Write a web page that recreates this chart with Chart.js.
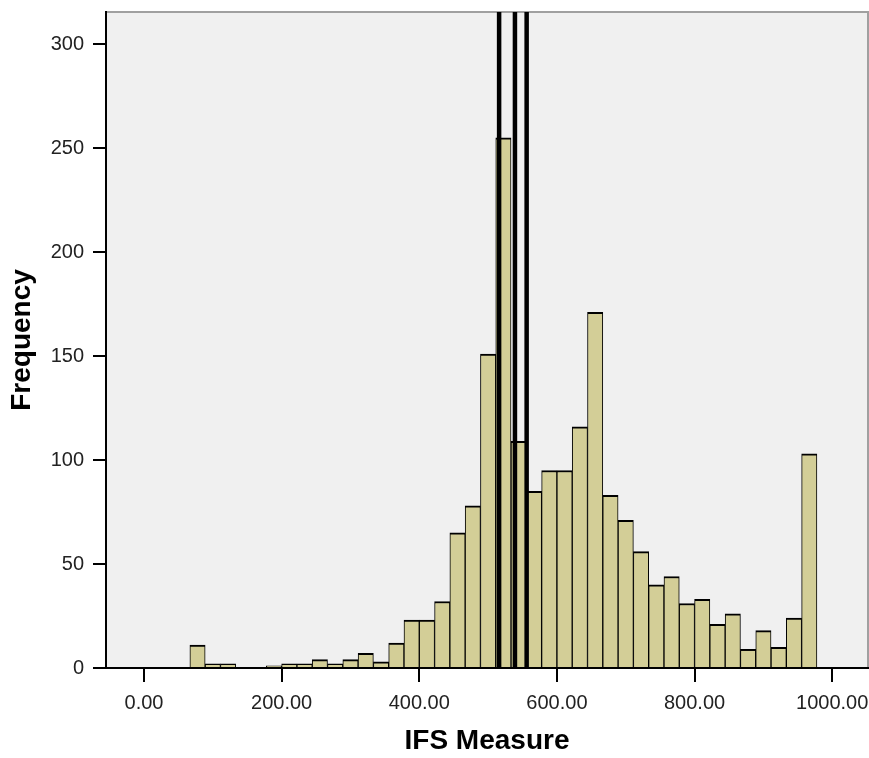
<!DOCTYPE html>
<html>
<head>
<meta charset="utf-8">
<script src="https://cdn.jsdelivr.net/npm/chart.js@4.4.0/dist/chart.umd.min.js"></script>
<style>
html, body { margin: 0; padding: 0; background: #fff; }
</style>
</head>
<body>
<canvas id="myChart" width="869" height="758"></canvas>
<script>
// histogram bins (lower edge of each bin, width 200/9)
const binWidth = 22.22;
const binStarts = [66.67, 88.89, 111.11, 133.33, 155.56, 177.78, 200.00, 222.22, 244.44, 266.67,
  288.89, 311.11, 333.33, 355.56, 377.78, 400.00, 422.22, 444.44, 466.67, 488.89,
  511.11, 533.33, 555.56, 577.78, 600.00, 622.22, 644.44, 666.67, 688.89, 711.11,
  733.33, 755.56, 777.78, 800.00, 822.22, 844.44, 866.67, 888.89, 911.11, 933.33, 955.56];

const frequency = [11, 2, 2, 0, 0, 1, 2, 2, 4, 2,
  4, 7, 3, 12, 23, 23, 32, 65, 78, 151,
  255, 109, 85, 95, 95, 116, 171, 83, 71, 56,
  40, 44, 31, 33, 21, 26, 9, 18, 10, 24, 103];

// vertical reference lines
const refLines = [516, 539, 556];

const xTicks = [0, 200, 400, 600, 800, 1000];
const yTicks = [0, 50, 100, 150, 200, 250, 300];

const font = "'Liberation Sans', Arial, sans-serif";

let points = [];
for (let i = 0; i < binStarts.length; i++) {
  points.push({ x: binStarts[i] + binWidth / 2, y: frequency[i] });
}

// grey plot background + frame
const plotBg = {
  id: "plotBg",
  beforeDraw(chart) {
    const { ctx, chartArea: a } = chart;
    ctx.save();
    ctx.fillStyle = "#f0f0f0";
    ctx.fillRect(a.left, a.top, a.right - a.left, a.bottom - a.top);
    ctx.strokeStyle = "#a0a0a0";
    ctx.lineWidth = 2;
    ctx.beginPath();
    ctx.moveTo(a.left, a.top);
    ctx.lineTo(a.right, a.top);
    ctx.lineTo(a.right, a.bottom);
    ctx.stroke();
    ctx.restore();
  }
};

// reference lines over the bars
const vLines = {
  id: "vLines",
  afterDatasetsDraw(chart) {
    const { ctx, chartArea: a, scales } = chart;
    ctx.save();
    ctx.strokeStyle = "#000";
    ctx.lineWidth = 4.5;
    refLines.forEach(v => {
      const x = scales.x.getPixelForValue(v);
      ctx.beginPath();
      ctx.moveTo(x, a.top);
      ctx.lineTo(x, a.bottom);
      ctx.stroke();
    });
    ctx.restore();
  }
};

const ctx = document.getElementById("myChart");

let chart = new Chart(ctx, {
  type: "bar",
  data: {
    datasets: [{
      label: "Frequency",
      data: points,
      backgroundColor: "#d3ce97",
      borderColor: "#000",
      borderWidth: { top: 2, left: 1, right: 1, bottom: 0 },
      barPercentage: 1,
      categoryPercentage: 1
    }]
  },
  options: {
    responsive: false,
    devicePixelRatio: 1,
    animation: false,
    layout: { padding: { top: 12, right: 1, left: 0, bottom: 0 } },
    plugins: { legend: { display: false }, tooltip: { enabled: false } },
    scales: {
      x: {
        type: "linear",
        min: -55.2,
        max: 1052,
        offset: false,
        afterBuildTicks: s => { s.ticks = xTicks.map(v => ({ value: v })); },
        afterFit: s => { s.height = 90; s.paddingLeft = 0; s.paddingRight = 0; },
        grid: { offset: false, drawOnChartArea: false, drawTicks: true, tickLength: 14, color: "#000", lineWidth: 2 },
        border: { display: true, color: "#000", width: 2 },
        ticks: {
          padding: 9, color: "#222", maxRotation: 0, autoSkip: false,
          font: { size: 20, family: font },
          callback: v => Number(v).toFixed(2)
        },
        title: {
          display: true, text: "IFS Measure", color: "#000",
          font: { size: 28, weight: "bold", family: font },
          padding: { top: 0, bottom: 0 }
        }
      },
      y: {
        min: 0,
        max: 315.5,
        afterBuildTicks: s => { s.ticks = yTicks.map(v => ({ value: v })); },
        afterFit: s => { s.width = 106; s.paddingTop = 0; s.paddingBottom = 0; },
        grid: { drawOnChartArea: false, drawTicks: true, tickLength: 13, color: "#000", lineWidth: 2 },
        border: { display: true, color: "#000", width: 2 },
        ticks: { padding: 9, color: "#222", font: { size: 20, family: font } },
        title: {
          display: true, text: "Frequency", color: "#000",
          font: { size: 28, weight: "bold", family: font },
          padding: { top: 5, bottom: 0 }
        }
      }
    }
  },
  plugins: [plotBg, vLines]
});
</script>
</body>
</html>
